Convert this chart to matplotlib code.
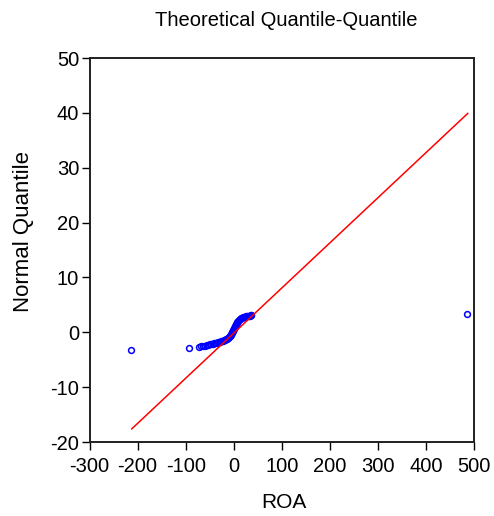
import matplotlib
matplotlib.use("Agg")
import matplotlib.pyplot as plt
import numpy as np

plt.rcParams['font.family'] = ['Liberation Sans', 'DejaVu Sans']
plt.rcParams['axes.unicode_minus'] = False

# Sorted ROA values (x) and their normal quantiles (y)
roa = [-214, -94, -73, -67, -63, -59, -56, -53, -50, -47, -44, -41, -38,
       -35, -32, -29, -26, -23, -20, -18, -16, -14, -12, -10, -9, -8,
       -7, -6, -5, -4, -3, -2, -1, 0, 1, 2, 3, 4, 5, 6, 7, 9, 11, 13,
       15, 17, 19, 21, 23, 25, 27, 29, 31, 33, 35, 37, 486]
normq = [-3.20, -2.90, -2.70, -2.58, -2.50, -2.42, -2.35, -2.28, -2.21, -2.15,
         -2.09, -2.03, -1.96, -1.89, -1.82, -1.74, -1.66, -1.58, -1.48, -1.38,
         -1.28, -1.18, -1.06, -0.94, -0.85, -0.74, -0.62, -0.48, -0.33, -0.16,
         0.02, 0.20, 0.40, 0.60, 0.80, 1.00, 1.20, 1.40, 1.58, 1.76, 1.94,
         2.14, 2.30, 2.44, 2.54, 2.63, 2.70, 2.77, 2.83, 2.88, 2.93, 2.97,
         3.01, 3.05, 3.09, 3.13, 3.30]

# Reference line end points (ROA, quantile)
line_x = [-212, 487]
line_y = [-17.6, 39.9]

xticks = [-300, -200, -100, 0, 100, 200, 300, 400, 500]
yticks = [-20, -10, 0, 10, 20, 30, 40, 50]

fig = plt.figure(figsize=(4.94, 5.16), dpi=100)
ax = fig.add_axes([89.5/494, 1-442/516, (474-89.5)/494, (442-58)/516])

ax.plot(roa, normq, linestyle='none', marker='o', markersize=4.2,
        markerfacecolor='none', markeredgecolor='#0000ff', markeredgewidth=1.1,
        zorder=2)
ax.plot(line_x, line_y, color='#ff0000', linewidth=1.1, zorder=3)

ax.set_xlim(-300, 500)
ax.set_ylim(-20, 50)
ax.set_xticks(xticks)
ax.set_yticks(yticks)
ax.tick_params(direction='out', length=6, width=1.0, labelsize=14.5,
               top=False, right=False, color='black')
ax.tick_params(axis='x', pad=4.5)
ax.tick_params(axis='y', pad=1.5)
for s in ax.spines.values():
    s.set_linewidth(1.4)
    s.set_color('#202020')

fig.text(286/494, 1-20/516, 'Theoretical Quantile-Quantile', ha='center', va='center',
         fontsize=14.5)
fig.text(24/494, 1-232/516, 'Normal Quantile', ha='center', va='center',
         rotation=90, fontsize=16)
fig.text(283.5/494, 1-503/516, 'ROA', ha='center', va='center', fontsize=15)

fig.savefig('out.png', dpi=100)
